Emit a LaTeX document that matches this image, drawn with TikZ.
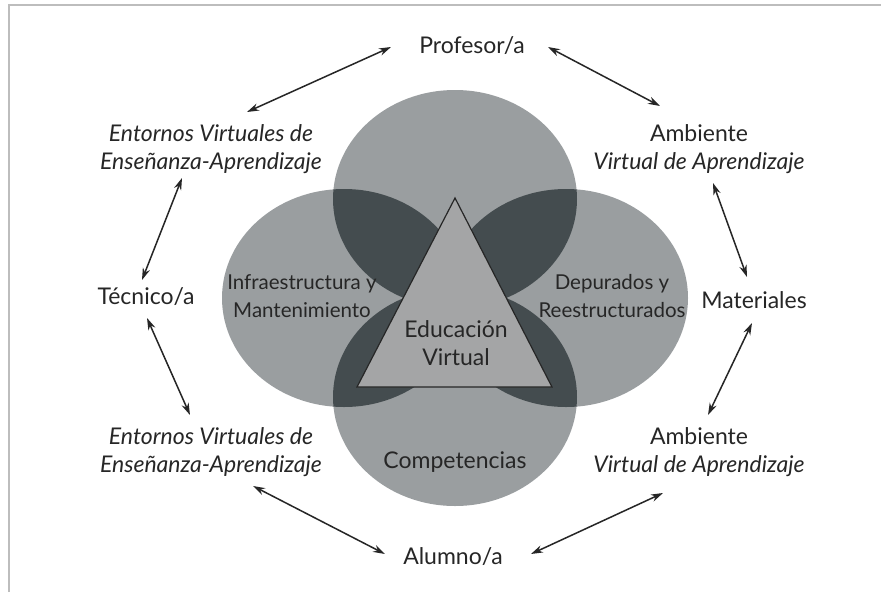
\documentclass[tikz,border=0pt]{standalone}
\usepackage{fontspec}
\setmainfont{Lato}
\usetikzlibrary{arrows.meta}
\definecolor{circgray}{HTML}{9A9EA0}
\definecolor{lensgray}{HTML}{444C4F}
\definecolor{trigray}{HTML}{A4A5A6}
\definecolor{inkgray}{HTML}{262626}
\definecolor{framegray}{HTML}{BDBDBD}
% the four overlapping discs
\newcommand{\topdisc}{(455,199) ellipse [x radius=122pt, y radius=109pt]}
\newcommand{\botdisc}{(455,397) ellipse [x radius=122pt, y radius=109pt]}
\newcommand{\leftdisc}{(344,298) ellipse [x radius=122pt, y radius=109pt]}
\newcommand{\rightdisc}{(566,298) ellipse [x radius=122pt, y radius=109pt]}
\tikzset {
  % people and resources around the discs
  actor/.style = {text=inkgray, font=\fontsize{23}{28}\selectfont, align=center},
  % labels inside the discs
  area/.style = {text=inkgray, font=\fontsize{20.5}{28}\selectfont, align=center},
  % two-way relations
  link/.style = {inkgray, line width=1.5pt,
    {Stealth[length=12pt,width=7.5pt]}-{Stealth[length=12pt,width=7.5pt]}},
}

\begin{document}
\begin{tikzpicture}[x=1pt, y=-1pt]
  \useasboundingbox (0,0) rectangle (881,592);
  \fill[white] (0,0) rectangle (881,592);
  \draw[framegray, line width=2pt] (9,592) -- (9,5) -- (881,5);

  % discs and their overlaps
  \fill[circgray] \topdisc;
  \fill[circgray] \botdisc;
  \fill[circgray] \leftdisc;
  \fill[circgray] \rightdisc;
  \begin{scope}
    \clip \topdisc;
    \fill[lensgray] \leftdisc;
    \fill[lensgray] \rightdisc;
  \end{scope}
  \begin{scope}
    \clip \botdisc;
    \fill[lensgray] \leftdisc;
    \fill[lensgray] \rightdisc;
  \end{scope}

  \draw[fill=trigray, draw=inkgray, line width=1.2pt, line join=miter]
    (455,198) -- (552,387) -- (357,387) -- cycle;

  \node[area] (infra) at (302,296) {Infraestructura y\\Mantenimiento};
  \node[area] (depu) at (612,296) {Depurados y\\Reestructurados};
  \node[actor] (edu) at (456,343) {Educación\\Virtual};
  \node[actor] (comp) at (455,462) {Competencias};

  \node[actor] (prof) at (472,46) {Profesor/a};
  \node[actor] (evea1) at (211,149) {\itshape Entornos Virtuales de\\\itshape Enseñanza-Aprendizaje};
  \node[actor] (ava1) at (699,149) {Ambiente\\\itshape Virtual de Aprendizaje};
  \node[actor] (tec) at (146,297) {Técnico/a};
  \node[actor] (mat) at (754,300) {Materiales};
  \node[actor] (evea2) at (211,452) {\itshape Entornos Virtuales de\\\itshape Enseñanza-Aprendizaje};
  \node[actor] (ava2) at (699,452) {Ambiente\\\itshape Virtual de Aprendizaje};
  \node[actor] (alum) at (453,557) {Alumno/a};

  \draw[link] ([shift={(-81,1)}]prof.center) -- ([shift={(36,-37)}]evea1.center);
  \draw[link] ([shift={(76,1)}]prof.center) -- ([shift={(-39,-43)}]ava1.center);
  \draw[link] ([shift={(-29,29)}]evea1.center) -- ([shift={(-4,-17)}]tec.center);
  \draw[link] ([shift={(1,21)}]tec.center) -- ([shift={(-21,-37)}]evea2.center);
  \draw[link] ([shift={(42,34)}]evea2.center) -- ([shift={(-68,-3)}]alum.center);
  \draw[link] ([shift={(78,-3)}]alum.center) -- ([shift={(-36,41)}]ava2.center);
  \draw[link] ([shift={(9,-37)}]ava2.center) -- ([shift={(-2,23)}]mat.center);
  \draw[link] ([shift={(-7,-23)}]mat.center) -- ([shift={(14,34)}]ava1.center);
\end{tikzpicture}
\end{document}
